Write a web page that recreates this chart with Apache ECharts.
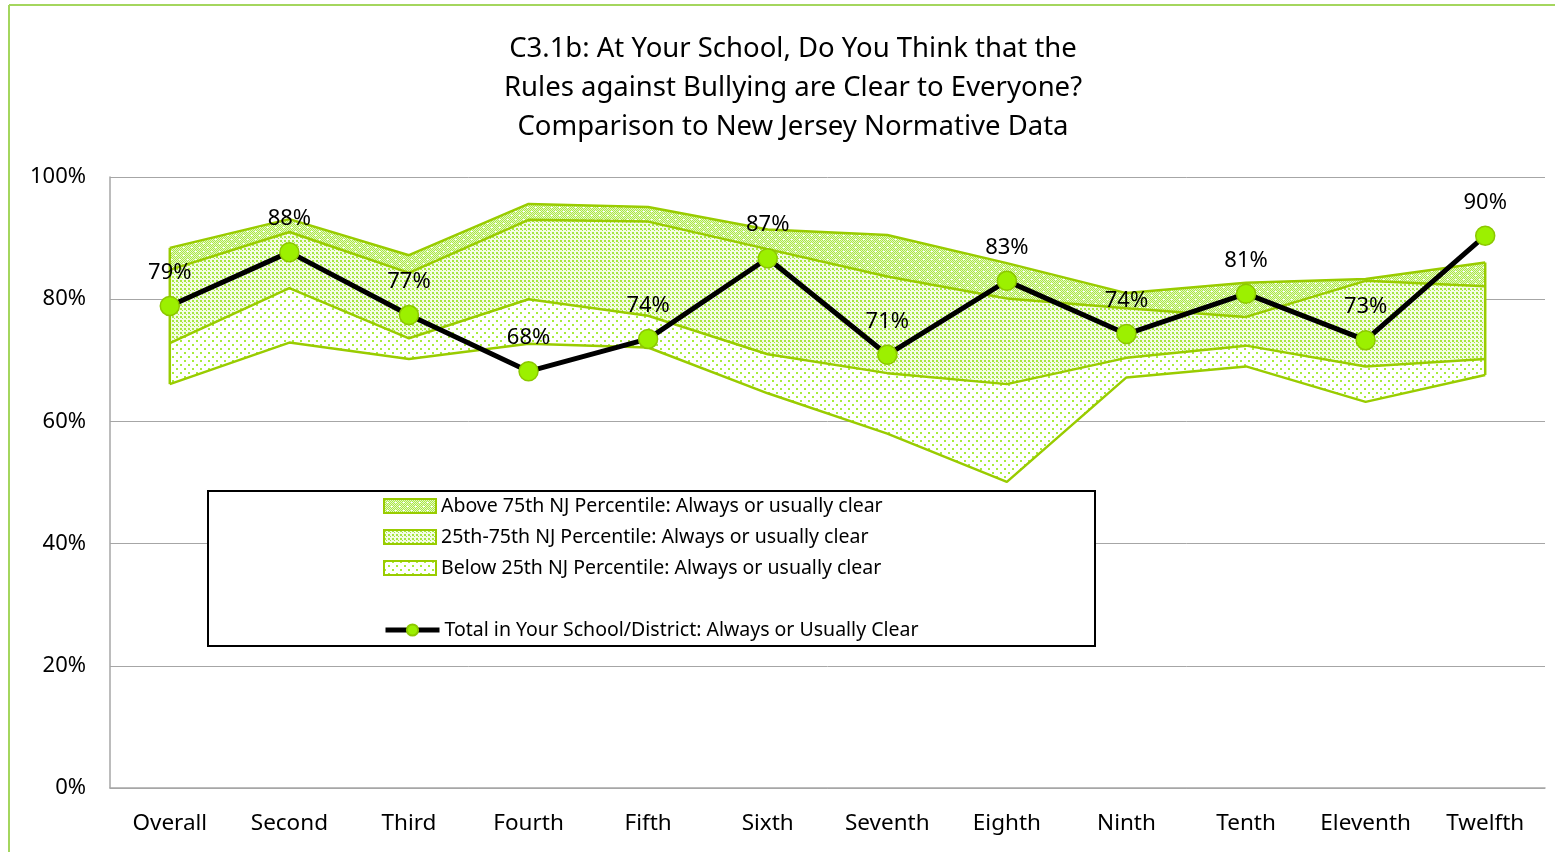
<!DOCTYPE html>
<html>
<head>
<meta charset="utf-8">
<script src="https://cdn.jsdelivr.net/npm/echarts@6/dist/echarts.min.js"></script>
<style>
html,body{margin:0;padding:0;background:#fff;}
#chart{width:1555px;height:852px;}
</style>
</head>
<body>
<div id="chart"></div>
<script>
const categories = ['Overall','Second','Third','Fourth','Fifth','Sixth','Seventh','Eighth','Ninth','Tenth','Eleventh','Twelfth'];
const minVals = [66.1, 72.9, 70.2, 72.7, 72.1, 64.6, 58.0, 50.1, 67.2, 69.0, 63.2, 67.6];
const p25Vals = [72.8, 81.8, 73.6, 80.0, 77.3, 71.0, 67.9, 66.1, 70.4, 72.4, 69.0, 70.2];
const p75Vals = [84.8, 91.0, 84.3, 93.0, 92.7, 88.2, 83.7, 80.1, 78.5, 77.1, 83.0, 82.1];
const maxVals = [88.4, 93.1, 87.2, 95.6, 95.1, 91.4, 90.5, 85.9, 81.0, 82.7, 83.3, 86.0];
const totalVals = [78.9, 87.7, 77.4, 68.2, 73.5, 86.7, 70.9, 83.0, 74.3, 80.9, 73.3, 90.4];
const yTicks = [0, 20, 40, 60, 80, 100];

const nameAbove = 'Above 75th NJ Percentile: Always or usually clear';
const nameMid = '25th-75th NJ Percentile: Always or usually clear';
const nameBelow = 'Below 25th NJ Percentile: Always or usually clear';
const nameTotal = 'Total in Your School/District: Always or Usually Clear';

const LINE_GREEN = '#99CC00';
const FONT = 'Noto Sans';

function makePattern(size, bg, layers) {
  const c = document.createElement('canvas');
  c.width = size; c.height = size;
  const g = c.getContext('2d');
  g.fillStyle = bg; g.fillRect(0, 0, size, size);
  layers.forEach(l => { g.fillStyle = l.color; l.dots.forEach(d => g.fillRect(d[0], d[1], d[2], d[3])); });
  return { image: c, repeat: 'repeat' };
}
const checker = [];
for (let y = 0; y < 8; y++) for (let x = 0; x < 8; x++) if ((x + y) % 2 === 0) checker.push([x, y, 1, 1]);
const patAbove = makePattern(8, '#E4F8C8', [
  { color: '#ACE844', dots: checker },
  { color: '#FFFFFF', dots: [[3, 3, 1, 1], [4, 3, 1, 1], [7, 7, 1, 1], [0, 7, 1, 1]] }
]);
const patMid = makePattern(4, '#F4FCE6', [{ color: '#A6E640', dots: [[0, 0, 2, 2], [2, 2, 1, 1]] }]);
const patBelow = makePattern(8, '#FFFFFF', [{ color: '#A8EC3C', dots: [[0, 0, 2, 2], [4, 4, 2, 2]] }]);

function diff(a, b) { return a.map((v, i) => +(v - b[i]).toFixed(2)); }

const chart = echarts.init(document.getElementById('chart'), null, {renderer: 'canvas'});
const option = {
  animation: false,
  backgroundColor: '#ffffff',
  title: {
    text: 'C3.1b: At Your School, Do You Think that the\nRules against Bullying are Clear to Everyone?\nComparison to New Jersey Normative Data',
    left: 788, top: 25, textAlign: 'center',
    textStyle: { fontFamily: FONT, fontSize: 27.5, fontWeight: 'normal', color: '#000', lineHeight: 39 }
  },
  grid: { left: 110, right: 10, top: 177, bottom: 64, containLabel: false },
  xAxis: {
    type: 'category', data: categories, boundaryGap: true,
    axisLine: { show: true, lineStyle: { color: '#A6A6A6', width: 1.5 } },
    axisTick: { show: false },
    axisLabel: { interval: 0, fontFamily: FONT, fontSize: 22.5, color: '#000', margin: 24 }
  },
  yAxis: {
    type: 'value', min: yTicks[0], max: yTicks[yTicks.length - 1], interval: 20,
    axisLine: { show: true, lineStyle: { color: '#A6A6A6', width: 1.5 } },
    axisTick: { show: false },
    splitLine: { lineStyle: { color: '#A6A6A6', width: 1 } },
    axisLabel: { fontFamily: FONT, fontSize: 22, color: '#000', margin: 24, formatter: '{value}%' }
  },
  legend: [
    {
      left: 378, top: 489, orient: 'vertical', itemGap: 7,
      itemWidth: 52, itemHeight: 14, z: 10,
      textStyle: { fontFamily: FONT, fontSize: 19.5, color: '#000', lineHeight: 24 },
      data: [
        { name: nameAbove, icon: 'rect', itemStyle: { color: patAbove, borderColor: LINE_GREEN, borderWidth: 2 } },
        { name: nameMid, icon: 'rect', itemStyle: { color: patMid, borderColor: LINE_GREEN, borderWidth: 2 } },
        { name: nameBelow, icon: 'rect', itemStyle: { color: patBelow, borderColor: LINE_GREEN, borderWidth: 2 } }
      ]
    },
    {
      left: 378, top: 613, orient: 'vertical',
      itemWidth: 54, itemHeight: 14, z: 10,
      textStyle: { fontFamily: FONT, fontSize: 19.5, color: '#000', lineHeight: 24 },
      data: [ { name: nameTotal, lineStyle: { color: '#000', width: 5 } } ]
    }
  ],
  graphic: [
    { type: 'line', shape: { x1: 9, y1: 5, x2: 1555, y2: 5 }, style: { stroke: '#A4D65E', lineWidth: 2 }, z: 1 },
    { type: 'line', shape: { x1: 9, y1: 5, x2: 9, y2: 852 }, style: { stroke: '#A4D65E', lineWidth: 2 }, z: 1 },
    { type: 'rect', shape: { x: 208, y: 491, width: 887, height: 155 }, style: { fill: '#fff', stroke: '#000', lineWidth: 2 }, z: 5 }
  ],
  series: [
    {
      name: 'base', type: 'line', stack: 'band', data: minVals, symbol: 'none',
      lineStyle: { color: LINE_GREEN, width: 2.5 }, z: 2, silent: true
    },
    {
      name: nameBelow, type: 'line', stack: 'band', data: diff(p25Vals, minVals), symbol: 'none',
      lineStyle: { color: LINE_GREEN, width: 2.5 }, itemStyle: { color: patBelow },
      areaStyle: { color: patBelow, opacity: 1 }, z: 2
    },
    {
      name: nameMid, type: 'line', stack: 'band', data: diff(p75Vals, p25Vals), symbol: 'none',
      lineStyle: { color: LINE_GREEN, width: 2.5 }, itemStyle: { color: patMid },
      areaStyle: { color: patMid, opacity: 1 }, z: 2
    },
    {
      name: nameAbove, type: 'line', stack: 'band', data: diff(maxVals, p75Vals), symbol: 'none',
      lineStyle: { color: LINE_GREEN, width: 2.5 }, itemStyle: { color: patAbove },
      areaStyle: { color: patAbove, opacity: 1 }, z: 2
    },
    {
      name: 'edges', type: 'custom', silent: true, z: 3,
      data: [[0, minVals[0], maxVals[0]], [categories.length - 1, minVals[minVals.length - 1], maxVals[maxVals.length - 1]]],
      renderItem: function (params, api) {
        const a = api.coord([api.value(0), api.value(1)]);
        const b = api.coord([api.value(0), api.value(2)]);
        return { type: 'line', shape: { x1: a[0], y1: a[1], x2: b[0], y2: b[1] }, style: { stroke: LINE_GREEN, lineWidth: 2.5 } };
      }
    },
    {
      name: nameTotal, type: 'line', data: totalVals, z: 6,
      symbol: 'circle', symbolSize: 19,
      lineStyle: { color: '#000', width: 5 },
      itemStyle: { color: '#9CF000', borderColor: '#8CC800', borderWidth: 1.5 },
      label: {
        show: true, position: 'top', distance: 12,
        fontFamily: FONT, fontSize: 22, color: '#000',
        formatter: p => Math.round(p.value) + '%'
      }
    }
  ]
};
chart.setOption(option);
</script>
</body>
</html>
